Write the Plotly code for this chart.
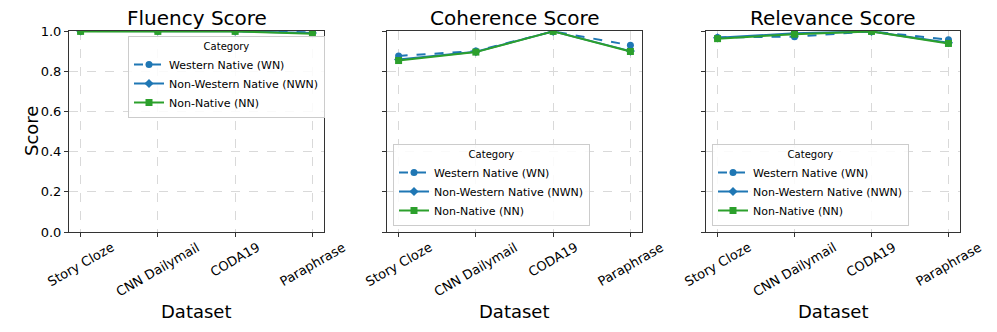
import plotly.graph_objects as go

datasets = ["Story Cloze", "CNN Dailymail", "CODA19", "Paraphrase"]
panel_titles = ["Fluency Score", "Coherence Score", "Relevance Score"]
categories = ["Western Native (WN)", "Non-Western Native (NWN)", "Non-Native (NN)"]

fluency_wn = [1.0, 1.0, 1.0, 0.993]
fluency_nwn = [1.0, 1.0, 0.999, 0.99]
fluency_nn = [0.998, 0.998, 0.998, 0.986]

coherence_wn = [0.876, 0.9, 0.998, 0.929]
coherence_nwn = [0.858, 0.897, 0.998, 0.9]
coherence_nn = [0.853, 0.895, 0.998, 0.898]

relevance_wn = [0.968, 0.972, 0.998, 0.957]
relevance_nwn = [0.966, 0.989, 0.998, 0.942]
relevance_nn = [0.962, 0.984, 0.998, 0.938]

y_ticks = [0.0, 0.2, 0.4, 0.6, 0.8, 1.0]

panels = [
    [fluency_wn, fluency_nwn, fluency_nn],
    [coherence_wn, coherence_nwn, coherence_nn],
    [relevance_wn, relevance_nwn, relevance_nn],
]

colors = ["#1f77b4", "#1f77b4", "#2ca02c"]
dashes = ["dash", "solid", "solid"]
symbols = ["circle", "diamond", "square"]

W, H = 997, 332
x_dom = [(69, 324), (387, 642), (706, 960)]
y_top, y_bot = 31, 232
FONT = "DejaVu Sans"

fig = go.Figure()
for p, series in enumerate(panels):
    ax = "" if p == 0 else str(p + 1)
    lg = "legend" if p == 0 else f"legend{p + 1}"
    for i, vals in enumerate(series):
        fig.add_trace(go.Scatter(
            x=list(range(len(datasets))), y=vals, name=categories[i],
            mode="lines+markers",
            line=dict(color=colors[i], width=2, dash=dashes[i]),
            marker=dict(symbol=symbols[i], size=7, color=colors[i]),
            xaxis="x" + ax, yaxis="y" + ax, legend=lg,
        ))

layout = dict(
    width=W, height=H,
    margin=dict(l=0, r=0, t=0, b=0),
    paper_bgcolor="white", plot_bgcolor="white",
    font=dict(family=FONT, color="black"),
    annotations=[],
)
for p in range(3):
    ax = "" if p == 0 else str(p + 1)
    x0, x1 = x_dom[p]
    layout["xaxis" + ax] = dict(
        domain=[x0 / W, x1 / W], range=[-0.15, 3.15],
        tickmode="array", tickvals=list(range(len(datasets))), ticktext=datasets,
        showticklabels=False,
        ticks="outside", ticklen=4, tickcolor="#333",
        showline=True, linecolor="#333", linewidth=1, mirror=True,
        showgrid=True, gridcolor="#d9d9d9", griddash="dash", gridwidth=1,
        zeroline=False, anchor="y" + ax, automargin=False,
    )
    layout["yaxis" + ax] = dict(
        domain=[1 - y_bot / H, 1 - y_top / H], range=[0, 1],
        tickmode="array", tickvals=y_ticks,
        ticktext=[f"{v:.1f}" for v in y_ticks],
        showticklabels=(p == 0), tickfont=dict(size=13, family=FONT),
        ticks="outside", ticklen=4, tickcolor="#333",
        showline=True, linecolor="#333", linewidth=1, mirror=True,
        showgrid=True, gridcolor="#d9d9d9", griddash="dash", gridwidth=1,
        zeroline=False, anchor="x" + ax, automargin=False,
    )
    # rotated category labels centred under each tick (matplotlib style)
    for j, name in enumerate(datasets):
        layout["annotations"].append(dict(
            text=name, x=j, xref="x" + ax, y=1 - 237 / H, yref="paper",
            xanchor="center", yanchor="top", showarrow=False, textangle=-30,
            font=dict(size=13, family=FONT),
        ))
    cx = (x0 + x1) / 2 / W
    layout["annotations"].append(dict(
        text=panel_titles[p], x=cx, y=1 - 18 / H, xref="paper", yref="paper",
        xanchor="center", yanchor="middle", showarrow=False,
        font=dict(size=20, family=FONT),
    ))
    layout["annotations"].append(dict(
        text="Dataset", x=cx, y=1 - 311 / H, xref="paper", yref="paper",
        xanchor="center", yanchor="middle", showarrow=False,
        font=dict(size=18, family=FONT),
    ))
layout["annotations"].append(dict(
    text="Score", x=31 / W, y=1 - 131 / H, xref="paper", yref="paper",
    xanchor="center", yanchor="middle", showarrow=False, textangle=-90,
    font=dict(size=18, family=FONT),
))

leg_common = dict(
    bgcolor="rgba(255,255,255,0.85)", bordercolor="#cccccc", borderwidth=1,
    font=dict(size=11, family=FONT),
    title=dict(text="Category", side="top center", font=dict(size=10, family=FONT)),
    itemwidth=30, tracegroupgap=0,
)
layout["legend"] = dict(x=128 / W, y=1 - 36 / H, xanchor="left", yanchor="top", **leg_common)
layout["legend2"] = dict(x=393 / W, y=1 - 226 / H, xanchor="left", yanchor="bottom", **leg_common)
layout["legend3"] = dict(x=712 / W, y=1 - 226 / H, xanchor="left", yanchor="bottom", **leg_common)

fig.update_layout(**layout)
fig.write_html("out.html", config={"displayModeBar": False},
               post_script="document.body.style.margin='0';")
